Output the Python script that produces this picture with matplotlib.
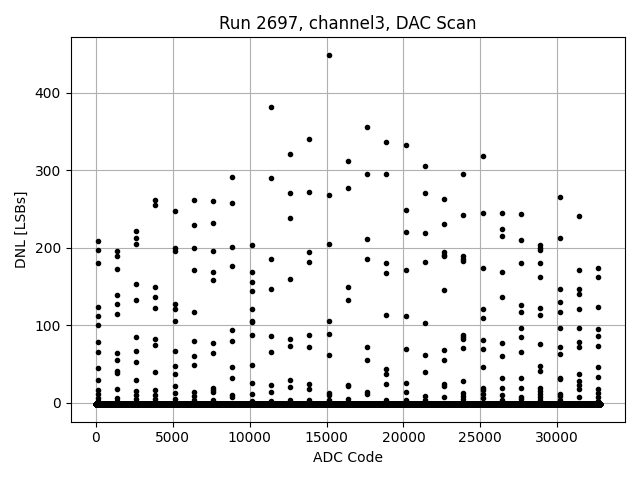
import numpy as np
import matplotlib.pyplot as plt

run = 2697
channel = 3
n_codes = 32768
baseline_dnl = -1.8

# codes where the DNL spikes show up
spike_codes = [117, 1368, 2620, 3871, 5122, 6373, 7625, 8876, 10127, 11378,
               12630, 13881, 15132, 16383, 17635, 18886, 20137, 21388, 22640,
               23891, 25142, 26393, 27645, 28896, 30147, 31398, 32650]

spike_dnl = [
    [209, 197, 181, 124, 112, 100, 78, 65, 45, 30, 17, 12, 6, 3],
    [196, 190, 173, 139, 127, 114, 64, 55, 41, 38, 18, 6, 3],
    [222, 213, 205, 153, 133, 85, 67, 53, 30, 15, 10, 5],
    [262, 255, 150, 136, 122, 82, 74, 40, 17, 10, 5],
    [247, 200, 196, 128, 121, 105, 67, 47, 37, 22, 13, 5],
    [262, 230, 200, 172, 117, 80, 60, 49, 14, 9, 4],
    [260, 232, 196, 169, 158, 77, 64, 19, 17, 14, 4],
    [292, 258, 201, 177, 94, 80, 46, 32, 10, 8],
    [203, 169, 156, 144, 121, 106, 104, 87, 49, 26, 12, 3],
    [382, 290, 186, 147, 86, 65, 23, 14, 3],
    [321, 271, 239, 160, 82, 73, 30, 21, 4],
    [341, 272, 195, 182, 87, 72, 24, 18, 4],
    [449, 268, 205, 106, 89, 62, 13, 10, 4],
    [312, 277, 150, 133, 23, 22, 5],
    [356, 295, 212, 185, 72, 55, 14, 12],
    [336, 295, 181, 168, 113, 44, 37, 24, 4],
    [333, 249, 221, 172, 112, 69, 26, 14, 4],
    [306, 271, 219, 182, 103, 62, 40, 9, 4],
    [263, 231, 194, 191, 189, 145, 68, 55, 24, 22, 8],
    [295, 242, 189, 186, 183, 87, 85, 82, 71, 28, 13, 9, 5],
    [318, 245, 174, 121, 110, 81, 69, 46, 19, 17, 12, 6],
    [245, 224, 215, 169, 136, 77, 60, 32, 19, 10, 4],
    [244, 210, 181, 126, 117, 97, 85, 65, 32, 19, 8, 5],
    [203, 200, 197, 181, 163, 122, 113, 76, 47, 41, 19, 15, 12, 8, 4],
    [266, 213, 147, 130, 117, 97, 72, 63, 32, 31, 12, 9, 4],
    [241, 171, 147, 141, 121, 97, 78, 72, 37, 28, 23, 18, 8],
    [174, 163, 124, 95, 86, 73, 46, 33, 18, 13, 8, 3],
]

codes = np.arange(n_codes)
base = np.full(n_codes, baseline_dnl)

sx = np.concatenate([[c] * len(v) for c, v in zip(spike_codes, spike_dnl)])
sy = np.concatenate(spike_dnl)

plt.figure(figsize=(6.4, 4.8), dpi=100)
plt.plot(codes, base, 'k.')
plt.plot(sx, sy, 'k.')
plt.grid(True)
plt.xlabel('ADC Code')
plt.ylabel('DNL [LSBs]')
plt.title(f'Run {run}, channel{channel}, DAC Scan')
plt.tight_layout()
plt.savefig('out.png')
